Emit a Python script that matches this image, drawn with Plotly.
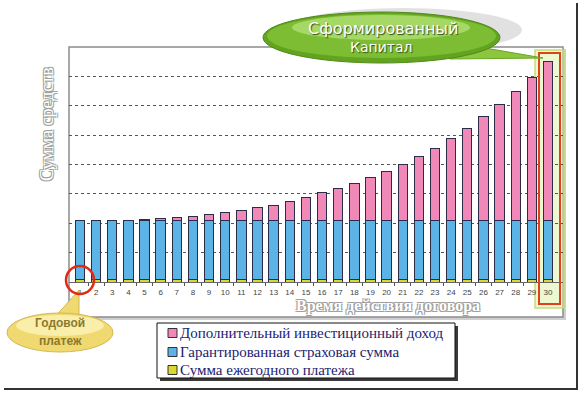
import plotly.graph_objects as go

# ---------------- data ----------------
years = list(range(1, 31))
year_labels = [str(y) for y in years]
annual_payment = [0.08] * 30
guaranteed_sum = [2.0] * 30
investment_income = [0.0, 0.0, 0.0, 0.01, 0.05, 0.08, 0.12, 0.16, 0.23, 0.29,
                     0.35, 0.46, 0.54, 0.67, 0.81, 0.95, 1.11, 1.28, 1.49, 1.69,
                     1.93, 2.20, 2.47, 2.81, 3.15, 3.56, 3.97, 4.41, 4.89, 5.43]
series_names = ["Сумма ежегодного платежа",
                "Гарантированная страховая сумма",
                "Дополнительный инвестиционный доход"]
series_colors = ["#d8d830", "#5cb4e6", "#f088b8"]
x_title = "Время действия договора"
y_title = "Сумма средств"
callout_top = ["Сформированный", "Капитал"]
callout_bottom = ["Годовой", "платеж"]

# ---------------- layout helpers ----------------
W, H = 580, 394
L, R, T, B = 69, 563, 47, 282  # plot area in pixels


def px(x):
    return (x - L) / (R - L)


def py(y):
    return (B - y) / (B - T)


fig = go.Figure()
bar_line = dict(color="#2b2b4a", width=1)
for name, vals, col in zip(series_names, [annual_payment, guaranteed_sum, investment_income], series_colors):
    fig.add_trace(go.Bar(x=years, y=vals, name=name, showlegend=False,
                         marker=dict(color=col, line=bar_line)))

shapes = []
annotations = []


def rect(x0, y0, x1, y1, **kw):
    d = dict(type="rect", xref="paper", yref="paper",
             x0=px(x0), x1=px(x1), y0=py(y1), y1=py(y0))
    d.update(kw)
    shapes.append(d)


def ell(x0, y0, x1, y1, **kw):
    d = dict(type="circle", xref="paper", yref="paper",
             x0=px(x0), x1=px(x1), y0=py(y1), y1=py(y0))
    d.update(kw)
    shapes.append(d)


def poly(pts, **kw):
    p = "M " + " L ".join(f"{px(a):.5f},{py(b):.5f}" for a, b in pts) + " Z"
    d = dict(type="path", xref="paper", yref="paper", path=p)
    d.update(kw)
    shapes.append(d)


def text(t, x, y, font, anchor="center", angle=0):
    annotations.append(dict(text=t, x=px(x), y=py(y), xref="paper", yref="paper",
                            showarrow=False, xanchor=anchor, yanchor="middle",
                            textangle=angle, font=font))


# outer picture frame
shapes.append(dict(type="line", xref="paper", yref="paper",
                   x0=px(577), x1=px(577), y0=py(389), y1=py(3),
                   line=dict(color="#333", width=2)))
shapes.append(dict(type="line", xref="paper", yref="paper",
                   x0=px(4), x1=px(578), y0=py(389), y1=py(389),
                   line=dict(color="#333", width=2)))
# plot frame with shadow
rect(71, 49, 566, 320, fillcolor="#cfcfcf", line=dict(width=0), layer="below")
rect(69, 47, 563, 317, fillcolor="white", line=dict(color="#8c8c8c", width=1.5), layer="below")

# highlight around last bar
rect(535, 50, 564, 308, fillcolor="rgba(215,240,150,0.45)",
     line=dict(color="rgba(190,220,110,0.9)", width=1.5), layer="below")
rect(539, 53, 560, 304, fillcolor="rgba(0,0,0,0)",
     line=dict(color="#e0401a", width=2), layer="above")

# custom legend
rect(160, 326, 458, 381, fillcolor="#3a3a3a", line=dict(width=0))
rect(157, 323, 455, 378, fillcolor="white", line=dict(color="#111", width=1))
legend_rows = [333, 352, 370]
legend_font = dict(family="Liberation Serif", size=15, color="#1c1c70")
for row, name, col in zip(legend_rows, series_names[::-1], series_colors[::-1]):
    rect(168, row - 4.5, 177, row + 4.5, fillcolor=col, line=dict(color="#333", width=1))
    text(name, 178, row, legend_font, anchor="left")

# green callout
ell(285, 8, 522, 52, fillcolor="rgba(120,120,120,0.22)", line=dict(width=0))
poly([(462, 44), (543, 58), (450, 59)], fillcolor="#8cc63f", line=dict(color="#6aa524", width=1))
ell(263, 12, 500, 63, fillcolor="#62a420", line=dict(color="#4f8a18", width=1))
ell(267, 14, 496, 58, fillcolor="#7dbd33", line=dict(width=0))
ell(292, 15, 470, 40, fillcolor="rgba(180,225,120,0.75)", line=dict(width=0))

# yellow callout
poly([(54, 318), (79, 290), (79, 318)], fillcolor="#efd970", line=dict(color="#d4b850", width=1))
ell(7, 313, 113, 352, fillcolor="#efd970", line=dict(color="#d4b850", width=1))
ell(16, 315, 104, 336, fillcolor="rgba(253,244,185,0.8)", line=dict(width=0))
# red circle around first year
ell(66, 266, 94, 294, fillcolor="rgba(0,0,0,0)", line=dict(color="#e02a14", width=2.5), layer="above")

outline = "-1px -1px 0 #a0a0a0, 1px -1px 0 #a0a0a0, -1px 1px 0 #a0a0a0, 1px 1px 0 #a0a0a0"
text(x_title, 388, 306, dict(family="Liberation Serif", size=16, color="white", weight="bold", shadow=outline))
text(y_title, 47, 124, dict(family="Liberation Serif", size=18, color="white", shadow=outline), angle=-90)
green_font = dict(family="DejaVu Sans", color="white", shadow="1px 1px 1px #2f4f10")
text(callout_top[0], 383, 28, dict(green_font, size=16))
text(callout_top[1], 381, 47, dict(green_font, size=14))
yellow_font = dict(family="Liberation Sans", size=12, color="#8a7a30", weight="bold")
text(callout_bottom[0], 60, 323, yellow_font)
text(callout_bottom[1], 60, 341, yellow_font)

fig.update_layout(
    width=W, height=H,
    margin=dict(l=L, r=W - R, t=T, b=H - B, pad=0),
    paper_bgcolor="white", plot_bgcolor="rgba(0,0,0,0)",
    barmode="stack", bargap=0.42,
    showlegend=False,
    xaxis=dict(range=[0.32, 30.93], tickmode="array", tickvals=years, ticktext=year_labels,
               showgrid=False, zeroline=False, showline=True, linecolor="#666", linewidth=1,
               ticks="", ticklabelstandoff=2,
               tickfont=dict(family="Liberation Sans", size=8, color="#444"),
               minor=dict(tickmode="array", tickvals=[y + 0.5 for y in years[:-1]],
                          ticks="outside", ticklen=3, tickcolor="#555", showgrid=False)),
    yaxis=dict(range=[0, 8], dtick=1, showticklabels=False, showgrid=True,
               gridcolor="#555", griddash="dot", gridwidth=1, zeroline=False,
               showline=False, ticks=""),
    shapes=shapes,
    annotations=annotations,
)

fig.write_html("out.html", config={"displayModeBar": False},
               post_script="document.body.style.margin='0px';")
